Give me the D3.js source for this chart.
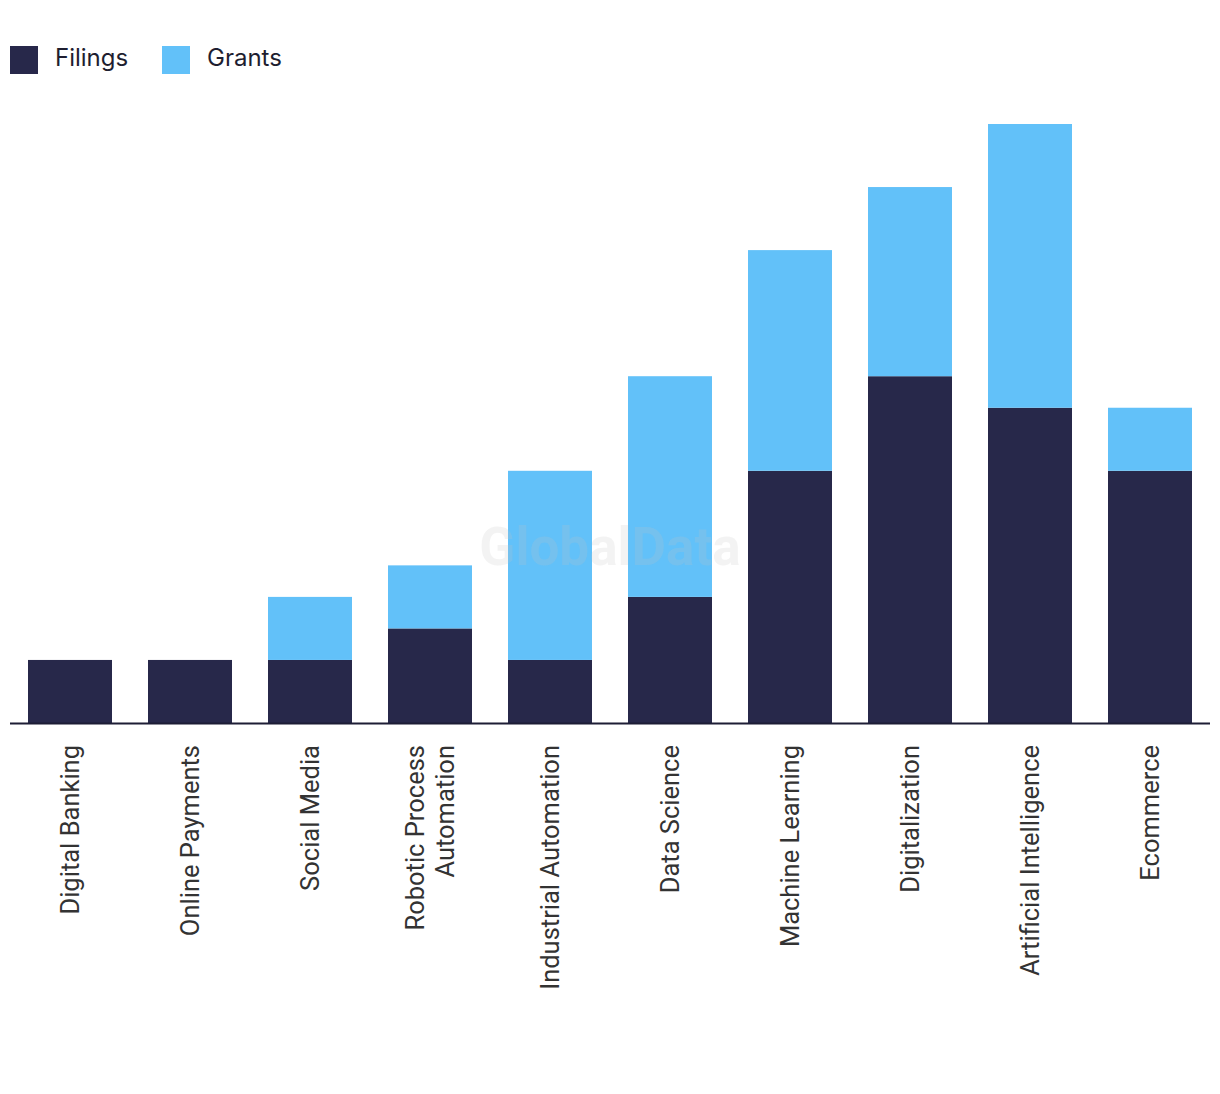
<!DOCTYPE html>
<html><head><meta charset="utf-8">
<script src="https://cdn.jsdelivr.net/npm/d3@7"></script>
<style>body{margin:0;background:#fff}</style>
</head><body>
<svg id="chart" width="1220" height="1094"></svg>
<script>
const categories = ["Digital Banking","Online Payments","Social Media","Robotic Process Automation","Industrial Automation","Data Science","Machine Learning","Digitalization","Artificial Intelligence","Ecommerce"];
const filings = [2,2,2,3,2,4,8,11,10,8];
const grants = [0,0,2,2,6,7,7,6,9,2];
const seriesNames = ["Filings","Grants"];
const colors = ["#27284a","#62c1f9"];

const svg = d3.select("#chart");
const x = d3.scaleBand().domain(categories).range([10,1210]).paddingInner(0.3).paddingOuter(0.15);
const y = d3.scaleLinear().domain([0,19]).range([723,124]);

const data = categories.map((c,i)=>({cat:c,Filings:filings[i],Grants:grants[i]}));
const stacked = d3.stack().keys(seriesNames)(data);
svg.append("g").selectAll("g").data(stacked).join("g")
  .attr("fill",(d,i)=>colors[i])
  .selectAll("rect").data(d=>d).join("rect")
  .attr("x",d=>x(d.data.cat)).attr("width",x.bandwidth())
  .attr("y",d=>y(d[1])).attr("height",d=>y(d[0])-y(d[1]));

// watermark
svg.append("text").attr("x",610).attr("y",565).attr("text-anchor","middle")
  .attr("font-family","Roboto, sans-serif").attr("font-weight",700).attr("font-size",53)
  .attr("fill","#c3c3c3").attr("fill-opacity",0.2).text("GlobalData");

// axis line
svg.append("line").attr("x1",10).attr("x2",1210).attr("y1",723.5).attr("y2",723.5)
  .attr("stroke","#1d1d35").attr("stroke-width",2);

// labels
const lab = svg.append("g").attr("font-family","Roboto, sans-serif").attr("font-size",25.5).attr("fill","#333");
categories.forEach(c=>{
  const lines = c==="Robotic Process Automation" ? ["Robotic Process","Automation"] : [c];
  const cx = x(c)+x.bandwidth()/2;
  const lh = 30;
  const t = lab.append("text").attr("text-anchor","end")
    .attr("transform",`translate(${cx},745) rotate(-90)`);
  lines.forEach((l,i)=>{
    t.append("tspan").attr("x",0).attr("y",(i-(lines.length-1)/2)*lh).attr("dy","0.35em").text(l);
  });
});

// legend
const leg = svg.append("g");
const lx = [10,162];
seriesNames.forEach((n,i)=>{
  leg.append("rect").attr("x",lx[i]).attr("y",46).attr("width",28).attr("height",28).attr("fill",colors[i]);
  leg.append("text").attr("x",lx[i]+45).attr("y",58).attr("dy","0.35em")
    .attr("font-family","Inter, 'Noto Sans', sans-serif").attr("font-size",24).attr("fill","#1e1e30").text(n);
});
</script>
</body></html>
